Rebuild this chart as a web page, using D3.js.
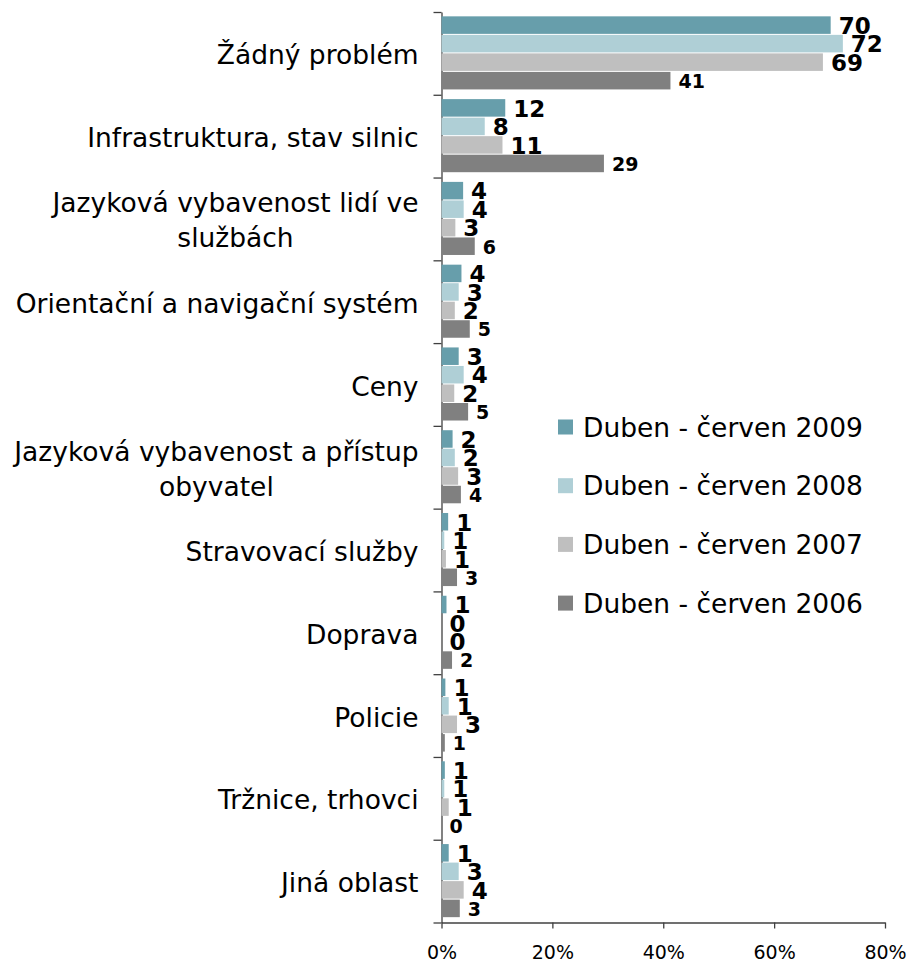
<!DOCTYPE html>
<html>
<head>
<meta charset="utf-8">
<script src="https://d3js.org/d3.v7.min.js"></script>
<style>
  body { margin: 0; background: #fff; }
  text { font-family: "DejaVu Sans", Verdana, sans-serif; }
</style>
</head>
<body>
<div id="chart"></div>
<script>
var categories = ["Žádný problém", "Infrastruktura, stav silnic", "Jazyková vybavenost lidí ve\nslužbách",
  "Orientační a navigační systém", "Ceny", "Jazyková vybavenost a přístup\nobyvatel",
  "Stravovací služby", "Doprava", "Policie", "Tržnice, trhovci", "Jiná oblast"];
var seriesNames = ["Duben - červen 2009", "Duben - červen 2008", "Duben - červen 2007", "Duben - červen 2006"];
var values2009 = [70.2, 11.5, 3.9, 3.6, 3.1, 2.0, 1.2, 0.9, 0.7, 0.6, 1.3];
var values2008 = [72.4, 7.8, 4.0, 3.1, 4.0, 2.4, 0.5, 0, 1.3, 0.5, 3.1];
var values2007 = [68.8, 11.0, 2.5, 2.4, 2.3, 3.0, 0.8, 0, 2.8, 1.3, 4.0];
var values2006 = [41.3, 29.3, 6.0, 5.1, 4.8, 3.5, 2.8, 1.9, 0.6, 0, 3.3];
var xTicks = [0, 20, 40, 60, 80];

var colors = ["#679eab", "#afcfd6", "#bfbfbf", "#808080"];
var labelSizes = [23, 23, 23, 19];

var margin = {top: 12, right: 25, bottom: 40.5, left: 441.5},
    w = 910,
    h = 963;
var width = w - margin.left - margin.right,
    height = h - margin.top - margin.bottom;

var svg = d3.select("#chart").append("svg")
  .attr("width", w)
  .attr("height", h);

var g = svg.append("g")
  .attr("transform", "translate(" + margin.left + "," + margin.top + ")");

var x = d3.scaleLinear().domain([0, 80]).range([0, width]);
var y0 = d3.scaleBand().domain(categories).range([0, height])
  .paddingInner(0.105).paddingOuter(0.0525);
var y1 = d3.scaleBand().domain(seriesNames).range([0, y0.bandwidth()]);
// band edges for the category tick marks
var yEdge = d3.scaleLinear().domain([0, categories.length]).range([0, height]);

var allValues = [values2009, values2008, values2007, values2006];
var rows = [];
categories.forEach(function(c, i) {
  seriesNames.forEach(function(s, j) {
    rows.push({cat: c, series: s, idx: j, value: allValues[j][i]});
  });
});

// axes
var axisColor = "#404040";
var yAxis = g.append("g")
  .call(d3.axisLeft(yEdge).tickValues(d3.range(categories.length + 1)).tickSize(8).tickSizeOuter(0).tickFormat(""));
var xAxis = g.append("g")
  .attr("transform", "translate(0," + height + ")")
  .call(d3.axisBottom(x).tickValues(xTicks).tickSize(6).tickSizeOuter(0).tickPadding(17)
    .tickFormat(function(d) { return d + "%"; }));
xAxis.selectAll("text").style("font-size", "19px").attr("fill", "#000");
g.selectAll(".domain, .tick line").attr("stroke", axisColor).attr("stroke-width", 1.3);

// bars
g.selectAll("rect.bar")
  .data(rows)
  .enter().append("rect")
  .attr("class", "bar")
  .attr("x", 0)
  .attr("y", function(d) { return y0(d.cat) + y1(d.series); })
  .attr("width", function(d) { return x(d.value); })
  .attr("height", y1.bandwidth() - 1)
  .attr("fill", function(d) { return colors[d.idx]; });

// value labels
g.selectAll("text.val")
  .data(rows)
  .enter().append("text")
  .attr("class", "val")
  .attr("x", function(d) { return x(d.value) + 8; })
  .attr("y", function(d) { return y0(d.cat) + y1(d.series) + y1.bandwidth() / 2; })
  .attr("dy", "0.36em")
  .style("font-size", function(d) { return labelSizes[d.idx] + "px"; })
  .style("font-weight", "bold")
  .text(function(d) { return Math.round(d.value); });

// category labels (wrapped ones are centred on each other, block right aligned)
categories.forEach(function(c, i) {
  var lines = c.split("\n");
  var cy = yEdge(i + 0.5) + 1.5;
  var t = g.append("text").style("font-size", "26.5px").attr("fill", "#000");
  lines.forEach(function(line, k) {
    t.append("tspan")
      .attr("y", cy + (k - (lines.length - 1) / 2) * 35)
      .attr("dy", "0.36em")
      .text(line);
  });
  if (lines.length == 1) {
    t.attr("text-anchor", "end").selectAll("tspan").attr("x", -23);
  } else {
    var maxW = 0;
    t.selectAll("tspan").each(function() { maxW = Math.max(maxW, this.getComputedTextLength()); });
    t.attr("text-anchor", "middle").selectAll("tspan").attr("x", -23 - maxW / 2);
  }
});

// legend
var legend = svg.append("g").attr("transform", "translate(558,427)");
var item = legend.selectAll("g")
  .data(seriesNames)
  .enter().append("g")
  .attr("transform", function(d, i) { return "translate(0," + i * 58.7 + ")"; });
item.append("rect")
  .attr("x", 0).attr("y", -7.5)
  .attr("width", 15).attr("height", 15)
  .attr("fill", function(d, i) { return colors[i]; });
item.append("text")
  .attr("x", 25)
  .attr("dy", "0.36em")
  .style("font-size", "26.5px")
  .text(function(d) { return d; });
</script>
</body>
</html>
